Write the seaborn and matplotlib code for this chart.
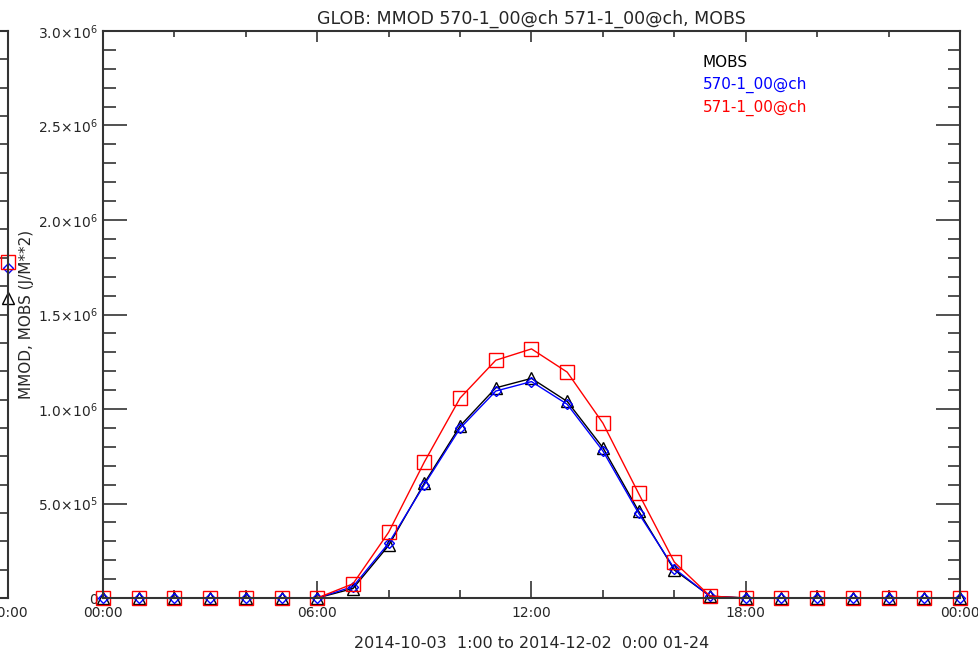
import numpy as np
import pandas as pd
import matplotlib
matplotlib.use("Agg")
import matplotlib.pyplot as plt
from matplotlib.ticker import MultipleLocator, FuncFormatter, FixedLocator
import seaborn as sns

# ---------------- data ----------------
hours = list(range(25))
mobs = [0, 0, 0, 0, 0, 0, 0, 50e3, 278e3, 608e3, 910e3, 1.112e6, 1.162e6, 1.040e6,
        0.795e6, 0.460e6, 0.148e6, 0.010e6, 0, 0, 0, 0, 0, 0, 0]
m570 = [0, 0, 0, 0, 0, 0, 0, 60e3, 290e3, 600e3, 898e3, 1.095e6, 1.145e6, 1.025e6,
        0.778e6, 0.448e6, 0.156e6, 0.008e6, 0, 0, 0, 0, 0, 0, 0]
m571 = [0, 0, 0, 0, 0, 0, 0, 75e3, 348e3, 720e3, 1.058e6, 1.258e6, 1.318e6, 1.195e6,
        0.925e6, 0.553e6, 0.190e6, 0.010e6, 0, 0, 0, 0, 0, 0, 0]
series_names = ["MOBS", "570-1_00@ch", "571-1_00@ch"]

# previous (cut-off) panel: only its last point is visible
prev_hours = [24]
prev_mobs = [1.057e6]
prev_570 = [1.163e6]
prev_571 = [1.184e6]

xtick_hours = [0, 6, 12, 18, 24]
title = "GLOB: MMOD 570-1_00@ch 571-1_00@ch, MOBS"
xlabel = "2014-10-03  1:00 to 2014-12-02  0:00 01-24"
ylabel = "MMOD, MOBS (J/M**2)"

df = pd.DataFrame({"hour": hours, "MOBS": mobs, "570-1_00@ch": m570, "571-1_00@ch": m571})
dfp = pd.DataFrame({"hour": prev_hours, "MOBS": prev_mobs, "570-1_00@ch": prev_570,
                    "571-1_00@ch": prev_571})

# ---------------- style ----------------
sns.set_style("white")
plt.rcParams["font.family"] = ["DejaVu Sans"]
plt.rcParams["mathtext.fontset"] = "dejavusans"

colors = {"MOBS": "black", "570-1_00@ch": "#0000ff", "571-1_00@ch": "#ff0000"}
markers = {"MOBS": "^", "570-1_00@ch": "D", "571-1_00@ch": "s"}
msizes = {"MOBS": 8, "570-1_00@ch": 5.5, "571-1_00@ch": 10}
spine_col = "#333333"

W, H = 979, 654
fig = plt.figure(figsize=(W / 100, H / 100), dpi=100)
L, R, T, B = 103, 960, 31, 598
ax = fig.add_axes([L / W, 1 - B / H, (R - L) / W, (B - T) / H])
axp = fig.add_axes([(8 - (R - L)) / W, 1 - B / H, (R - L) / W, (B - T) / H])


def ylab(v, pos):
    if abs(v) < 1e-9:
        return "0"
    if v < 0:
        return ""
    e = int(np.floor(np.log10(v) + 1e-9))
    m = v / 10 ** e
    return r"$%.1f\!\times\!10^{%d}$" % (m, e)


def style_axes(a, ymax, ymajor, yminor):
    a.set_xlim(0, 24)
    a.set_ylim(0, ymax)
    for s in a.spines.values():
        s.set_color(spine_col)
        s.set_linewidth(1.5)
    a.xaxis.set_major_locator(FixedLocator(xtick_hours))
    a.xaxis.set_major_formatter(FuncFormatter(lambda v, p: "%02d:00" % (int(round(v)) % 24)))
    a.xaxis.set_minor_locator(MultipleLocator(2))
    a.yaxis.set_major_locator(MultipleLocator(ymajor))
    a.yaxis.set_minor_locator(MultipleLocator(yminor))
    a.yaxis.set_major_formatter(FuncFormatter(ylab))
    a.tick_params(axis="x", which="major", direction="in", length=12, width=1.2,
                  color=spine_col, labelsize=10, pad=6, top=False, bottom=True)
    a.tick_params(axis="x", which="minor", direction="in", length=6, width=1.2,
                  color=spine_col, top=False, bottom=True)
    a.tick_params(axis="y", which="major", direction="in", length=17, width=1.2,
                  color=spine_col, labelsize=10, pad=4, left=True, right=True)
    a.tick_params(axis="y", which="minor", direction="in", length=9, width=1.2,
                  color=spine_col, left=True, right=True)
    sec = a.secondary_xaxis("top")
    sec.xaxis.set_major_locator(FixedLocator(xtick_hours))
    sec.xaxis.set_minor_locator(MultipleLocator(2))
    sec.tick_params(axis="x", which="major", direction="in", length=8, width=1.2,
                    color=spine_col, labeltop=False)
    sec.tick_params(axis="x", which="minor", direction="in", length=4, width=1.2,
                    color=spine_col)
    sec.spines["top"].set_visible(False)
    a.set_xlabel("")
    a.set_ylabel("")


for name in series_names:
    sns.lineplot(data=df, x="hour", y=name, ax=ax, color=colors[name], lw=1.0,
                 marker=markers[name], markersize=msizes[name], markerfacecolor="none",
                 markeredgecolor=colors[name], markeredgewidth=1.0, clip_on=False)
    sns.lineplot(data=dfp, x="hour", y=name, ax=axp, color=colors[name], lw=1.0,
                 marker=markers[name], markersize=msizes[name], markerfacecolor="none",
                 markeredgecolor=colors[name], markeredgewidth=1.0, clip_on=False)

style_axes(ax, 3.0e6, 5e5, 1e5)
style_axes(axp, 2.0e6, 1e5, 1e5)
axp.tick_params(axis="y", labelleft=False)

ax.set_title(title, fontsize=12.5, pad=5)
ax.set_xlabel(xlabel, fontsize=11.5, labelpad=11)
ax.set_ylabel(ylabel, fontsize=11)
ax.yaxis.set_label_coords((34 - L) / (R - L), 0.5)

for i, name in enumerate(series_names):
    ax.text(0.7, 0.945 - i * 0.0405, name, transform=ax.transAxes, color=colors[name],
            fontsize=11, ha="left", va="center")

fig.savefig("out.png", dpi=100)
